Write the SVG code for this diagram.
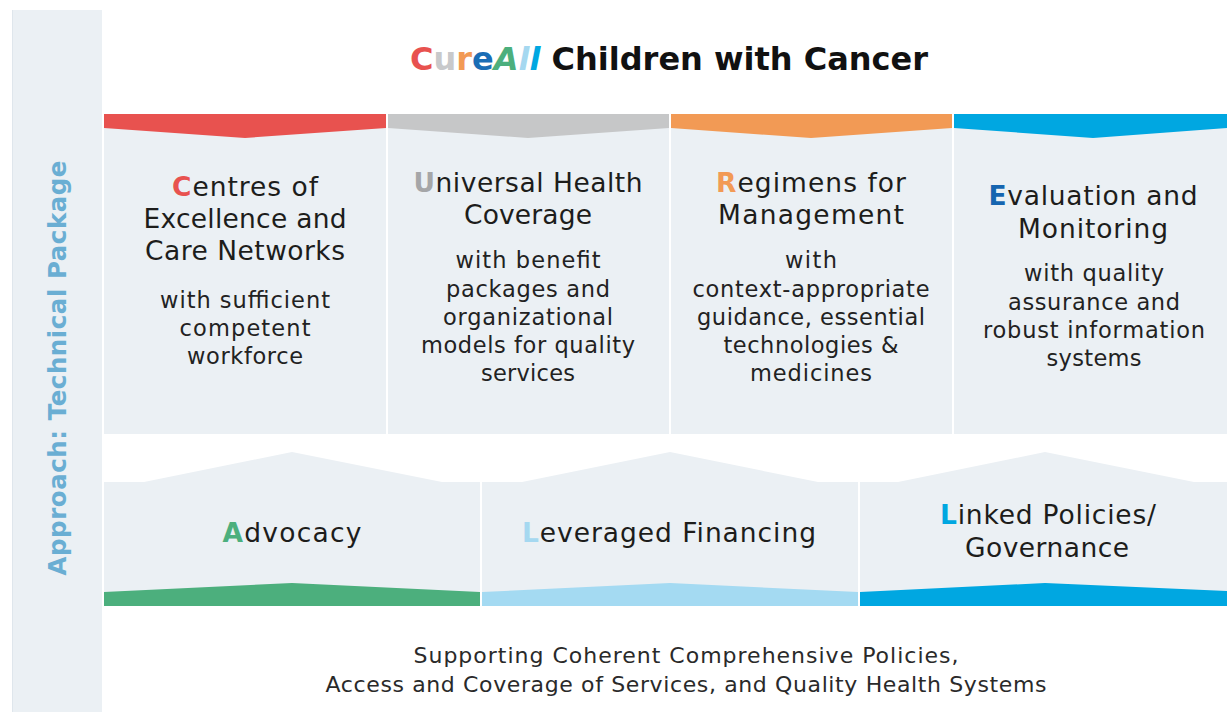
<svg xmlns="http://www.w3.org/2000/svg" width="1227" height="712" viewBox="0 0 1227 712">
<style>
.box{fill:#ebf0f4}
.h{font-family:"DejaVu Sans","Liberation Sans",sans-serif;font-size:26.5px;fill:#1d1d1b;text-anchor:middle}
.s{font-family:"DejaVu Sans","Liberation Sans",sans-serif;font-size:22.5px;fill:#222;text-anchor:middle}
.f{font-family:"DejaVu Sans","Liberation Sans",sans-serif;font-size:22px;fill:#2a2a2a;text-anchor:middle}
.ini{font-weight:bold}
</style>
<rect width="1227" height="712" fill="#ffffff"/>
<g id="sidebar">
<rect x="12" y="10" width="90" height="702" class="box"/>
<line x1="12.5" y1="10" x2="12.5" y2="712" stroke="#dfe6ec" stroke-width="1"/>
<text transform="translate(66,368) rotate(-90)" font-family="DejaVu Sans,Liberation Sans,sans-serif" font-size="24.5" font-weight="bold" fill="#6aaed3" text-anchor="middle" textLength="415">Approach: Technical Package</text>
</g>
<g id="title">
<text x="669" y="70" font-family="DejaVu Sans,Liberation Sans,sans-serif" font-size="32" font-weight="bold" fill="#111" text-anchor="middle" textLength="518"><tspan fill="#e8524f">C</tspan><tspan fill="#c8c9cb">u</tspan><tspan fill="#f29a55">r</tspan><tspan fill="#1a6db5">e</tspan><tspan font-style="italic" fill="#4caf7d">A</tspan><tspan font-style="italic" fill="#a5d8f0">l</tspan><tspan font-style="italic" fill="#00a7e1">l</tspan> Children with Cancer</text>
</g>
<g id="node-centres">
<rect x="104" y="128" width="282" height="306" class="box"/>
<polygon points="104,114 386,114 386,128 245,138 104,128" fill="#e8524f"/>
<text class="h" x="245" y="196" textLength="146"><tspan class="ini" fill="#e8524f">C</tspan>entres of</text>
<text class="h" x="245" y="228" textLength="203">Excellence and</text>
<text class="h" x="245" y="260" textLength="200">Care Networks</text>
<text class="s" x="245" y="308" textLength="170">with sufficient</text>
<text class="s" x="245" y="336" textLength="131">competent</text>
<text class="s" x="245" y="364" textLength="116">workforce</text>
</g>
<g id="node-universal">
<rect x="388" y="128" width="281" height="306" class="box"/>
<polygon points="388,114 669,114 669,128 528,138 388,128" fill="#c6c7c8"/>
<text class="h" x="528" y="192" textLength="229"><tspan class="ini" fill="#a5a6a8">U</tspan>niversal Health</text>
<text class="h" x="528" y="224" textLength="128">Coverage</text>
<text class="s" x="528" y="268" textLength="145">with benefit</text>
<text class="s" x="528" y="297" textLength="164">packages and</text>
<text class="s" x="528" y="325" textLength="170">organizational</text>
<text class="s" x="528" y="353" textLength="214">models for quality</text>
<text class="s" x="528" y="381" textLength="94">services</text>
</g>
<g id="node-regimens">
<rect x="671" y="128" width="281" height="306" class="box"/>
<polygon points="671,114 952,114 952,128 811,138 671,128" fill="#f29a55"/>
<text class="h" x="811" y="192" textLength="190"><tspan class="ini" fill="#f29a55">R</tspan>egimens for</text>
<text class="h" x="811" y="224" textLength="186">Management</text>
<text class="s" x="811" y="268" textLength="52">with</text>
<text class="s" x="811" y="297" textLength="237">context-appropriate</text>
<text class="s" x="811" y="325" textLength="228">guidance, essential</text>
<text class="s" x="811" y="353" textLength="175">technologies &amp;</text>
<text class="s" x="811" y="381" textLength="122">medicines</text>
</g>
<g id="node-evaluation">
<rect x="954" y="128" width="273" height="306" class="box"/>
<polygon points="954,114 1227,114 1227,128 1093,138 954,128" fill="#00a7e1"/>
<text class="h" x="1093" y="205" textLength="209"><tspan class="ini" fill="#1565b0">E</tspan>valuation and</text>
<text class="h" x="1093" y="238" textLength="150">Monitoring</text>
<text class="s" x="1094" y="281" textLength="140">with quality</text>
<text class="s" x="1094" y="310" textLength="172">assurance and</text>
<text class="s" x="1094" y="338" textLength="222">robust information</text>
<text class="s" x="1094" y="366" textLength="95">systems</text>
</g>
<g id="node-advocacy">
<polygon points="104,482 144,482 292,452 442,482 480,482 480,606 104,606" class="box"/>
<polygon points="104,592 292,583 480,592 480,606 104,606" fill="#4caf7d"/>
<text class="h" x="292" y="542" textLength="139"><tspan class="ini" fill="#4caf7d">A</tspan>dvocacy</text>
</g>
<g id="node-financing">
<polygon points="482,482 522,482 670,452 818,482 858,482 858,606 482,606" class="box"/>
<polygon points="482,592 670,583 858,592 858,606 482,606" fill="#a4daf2"/>
<text class="h" x="669" y="542" textLength="294"><tspan class="ini" fill="#a5d8f0">L</tspan>everaged Financing</text>
</g>
<g id="node-linked">
<polygon points="860,482 898,482 1045,452 1194,482 1227,482 1227,606 860,606" class="box"/>
<polygon points="860,592 1045,583 1227,591 1227,606 860,606" fill="#00a7e1"/>
<text class="h" x="1048" y="524" textLength="216"><tspan class="ini" fill="#00a7e1">L</tspan>inked Policies/</text>
<text class="h" x="1047" y="557" textLength="164">Governance</text>
</g>
<g id="footer">
<text class="f" x="686" y="663" textLength="545">Supporting Coherent Comprehensive Policies,</text>
<text class="f" x="686" y="692" textLength="721">Access and Coverage of Services, and Quality Health Systems</text>
</g>
</svg>
